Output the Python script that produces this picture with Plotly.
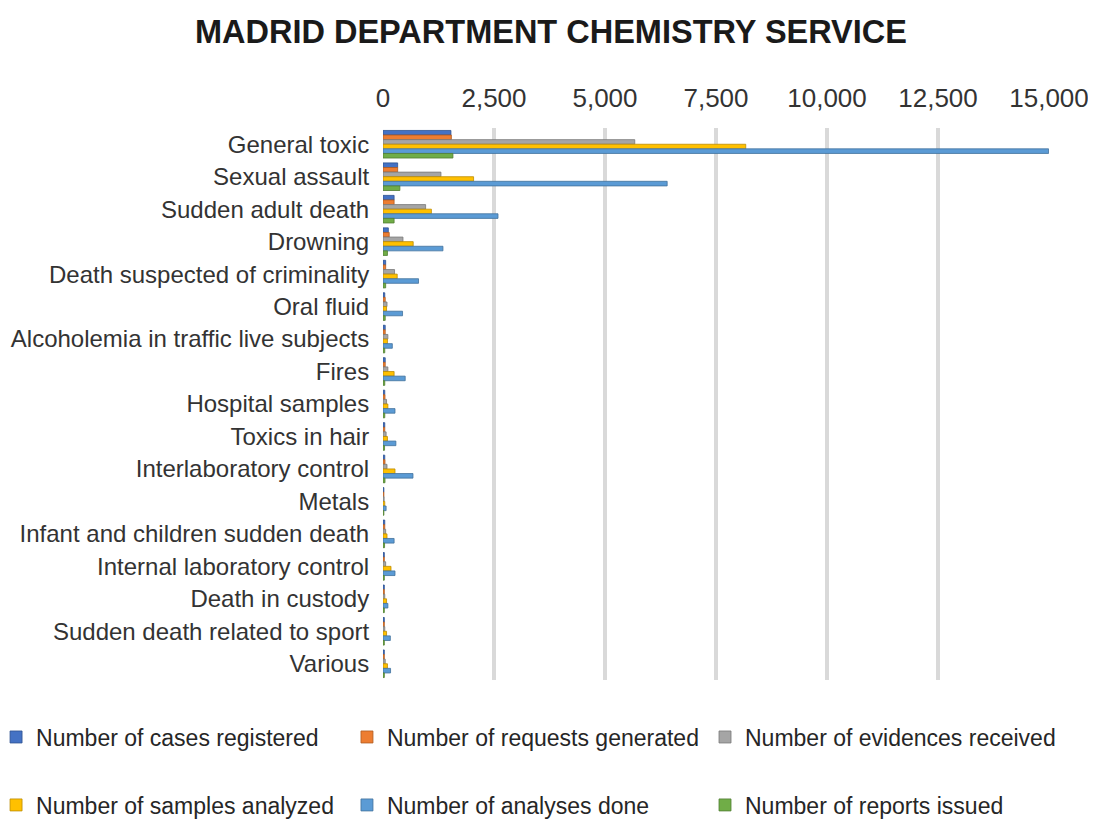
import plotly.graph_objects as go

categories = ["General toxic", "Sexual assault", "Sudden adult death", "Drowning",
              "Death suspected of criminality", "Oral fluid",
              "Alcoholemia in traffic live subjects", "Fires", "Hospital samples",
              "Toxics in hair", "Interlaboratory control", "Metals",
              "Infant and children sudden death", "Internal laboratory control",
              "Death in custody", "Sudden death related to sport", "Various"]

cases_registered   = [1530, 330, 250, 120, 60, 40, 50, 50, 40, 40, 40, 20, 40, 30, 30, 30, 30]
requests_generated = [1540, 330, 250, 140, 60, 50, 50, 50, 45, 40, 45, 20, 40, 30, 30, 30, 30]
evidences_received = [5670, 1305, 960, 450, 260, 90, 110, 110, 80, 70, 90, 25, 60, 60, 40, 40, 50]
samples_analyzed   = [8170, 2040, 1090, 680, 320, 80, 100, 250, 110, 100, 270, 40, 90, 180, 80, 80, 100]
analyses_done      = [14990, 6400, 2590, 1350, 800, 440, 210, 500, 270, 290, 675, 70, 250, 270, 110, 165, 170]
reports_issued     = [1575, 380, 250, 100, 60, 50, 40, 40, 40, 35, 45, 20, 35, 30, 30, 30, 30]

series = [
    ("Number of cases registered", cases_registered, "#4472C4", "#2F528F"),
    ("Number of requests generated", requests_generated, "#ED7D31", "#AE5A21"),
    ("Number of evidences received", evidences_received, "#A5A5A5", "#787878"),
    ("Number of samples analyzed", samples_analyzed, "#FFC000", "#BC8C00"),
    ("Number of analyses done", analyses_done, "#5B9BD5", "#41719C"),
    ("Number of reports issued", reports_issued, "#70AD47", "#507E32"),
]

FONT = "Liberation Sans, Arial, sans-serif"

# legend slot per series: (x paper, y paper) — 3 columns x 2 rows below the plot
legend_x = [-0.581, -0.0541, 0.4835]
legend_y = [-0.1033, -0.2264]

fig = go.Figure()
legend_layout = {}
for i, (name, vals, col, edge) in enumerate(series):
    lg = "legend" if i == 0 else f"legend{i + 1}"
    fig.add_trace(go.Bar(
        y=categories, x=vals, name=name, orientation="h",
        marker=dict(color=col, line=dict(color=edge, width=0.8)),
        legend=lg,
    ))
    legend_layout[lg] = dict(
        x=legend_x[i % 3], y=legend_y[i // 3],
        orientation="h", xanchor="left", yanchor="middle",
        font=dict(family=FONT, size=23, color="#262626"),
        bgcolor="rgba(0,0,0,0)", itemwidth=30,
    )

fig.update_layout(
    width=1096, height=819,
    margin=dict(l=375, r=55, t=120, b=147, autoexpand=False),
    paper_bgcolor="white", plot_bgcolor="white",
    barmode="group", bargap=0.15, bargroupgap=0,
    title=dict(text="<b>MADRID DEPARTMENT CHEMISTRY SERVICE</b>", x=0.4954, xanchor="center",
               y=0.971, yanchor="middle",
               font=dict(family=FONT, size=32.5, color="#1a1a1a")),
    xaxis=dict(side="top", range=[0, 15000], dtick=2500, tickformat=",",
               showgrid=True, gridcolor="#d9d9d9", gridwidth=4,
               zeroline=False, showline=False, ticks="outside", ticklen=10, tickcolor="white",
               tickfont=dict(family=FONT, size=26, color="#333333")),
    yaxis=dict(autorange="reversed", showgrid=False, ticks="outside", ticklen=8,
               tickcolor="white", showline=False,
               tickfont=dict(family=FONT, size=24, color="#333333")),
    showlegend=True,
    **legend_layout,
)

fig.write_html("out.html")
